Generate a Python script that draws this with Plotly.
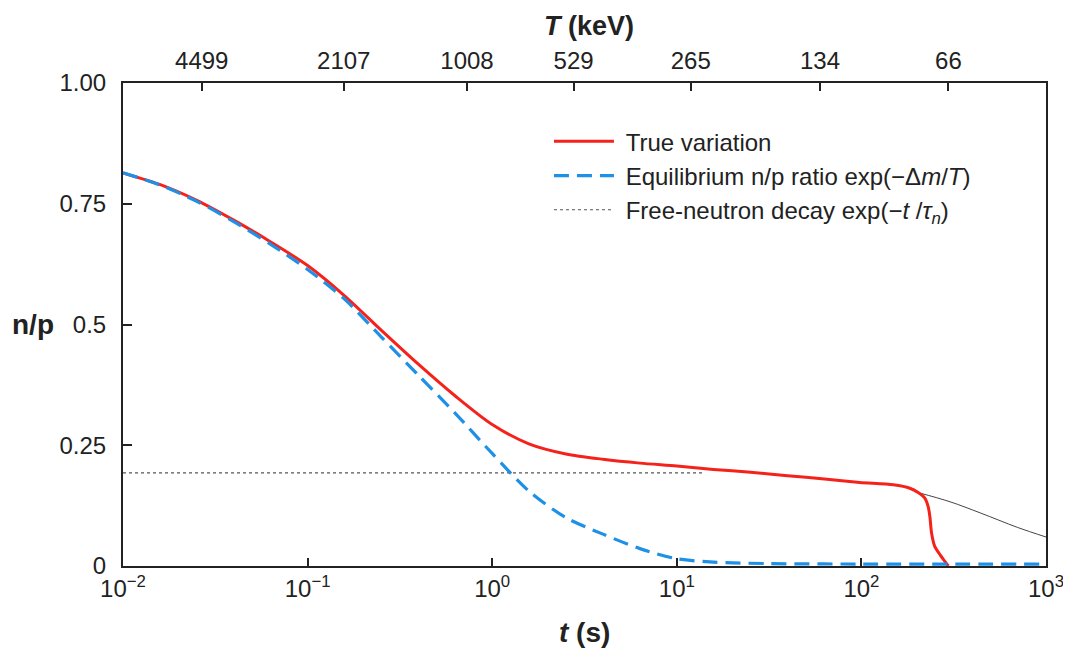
import plotly.graph_objects as go

# ---- data ----
# True variation (red)
t_true = [0.01, 0.0158, 0.0251, 0.0398, 0.0631, 0.1, 0.158, 0.251, 0.398, 0.631, 1.0,
          1.58, 2.51, 3.98, 6.31, 10, 15.8, 25.1, 39.8, 63.1, 98, 149, 183, 203, 221,
          230, 235, 240, 250, 267, 284, 296]
np_true = [0.814, 0.790, 0.757, 0.716, 0.671, 0.622, 0.560, 0.488, 0.418, 0.352, 0.293,
           0.253, 0.232, 0.221, 0.213, 0.207, 0.200, 0.194, 0.187, 0.180, 0.173, 0.168,
           0.161, 0.152, 0.140, 0.123, 0.102, 0.068, 0.040, 0.023, 0.009, 0.0]

# Equilibrium n/p ratio (blue dashed)
t_eq = [0.01, 0.0158, 0.0251, 0.0398, 0.0631, 0.1, 0.158, 0.251, 0.398, 0.631, 1.0,
        1.58, 2.51, 3.98, 6.31, 10, 15.8, 31.6, 100, 1000]
np_eq = [0.814, 0.789, 0.755, 0.713, 0.666, 0.614, 0.553, 0.474, 0.395, 0.316, 0.233,
         0.155, 0.100, 0.066, 0.036, 0.015, 0.008, 0.005, 0.004, 0.004]

# Free-neutron decay (grey): dotted plateau and thin tail after freeze-out
t_free = [0.01, 14]
np_free = [0.193, 0.193]
t_free_tail = [203, 302, 440, 700, 1000]
np_free_tail = [0.152, 0.133, 0.110, 0.080, 0.060]

# top axis: temperature labels and the times they sit at
T_labels = ["4499", "2107", "1008", "529", "265", "134", "66"]
T_tick_t = [0.0267, 0.157, 0.730, 2.76, 11.9, 59.7, 296]

x_tickvals = [1e-2, 1e-1, 1e0, 1e1, 1e2, 1e3]
x_ticktext = ["10<sup>−2</sup>", "10<sup>−1</sup>", "10<sup>0</sup>",
              "10<sup>1</sup>", "10<sup>2</sup>", "10<sup>3</sup>"]
y_tickvals = [0, 0.25, 0.5, 0.75, 1.0]
y_ticktext = ["0", "0.25", "0.5", "0.75", "1.00"]

FONT = "Arial, Liberation Sans, Helvetica, sans-serif"
INK = "#222222"
RED = "#f5221b"
BLUE = "#1e90e6"
NB = "\u00a0"

fig = go.Figure()

fig.add_trace(go.Scatter(
    x=t_free, y=np_free, mode="lines",
    line=dict(color="#555555", width=1.2, dash="3px,3px"),
    name=NB + "Free-neutron decay exp(−<i>t</i> /<i>τ</i><sub><i>n</i></sub>)",
    legendrank=3, hoverinfo="skip"))
fig.add_trace(go.Scatter(
    x=t_free_tail, y=np_free_tail, mode="lines",
    line=dict(color="#444444", width=1, shape="spline"),
    showlegend=False, hoverinfo="skip"))
fig.add_trace(go.Scatter(
    x=t_true, y=np_true, mode="lines",
    line=dict(color=RED, width=3, shape="spline", smoothing=0.8),
    name=NB + "True variation", legendrank=1))
fig.add_trace(go.Scatter(
    x=t_eq, y=np_eq, mode="lines",
    line=dict(color=BLUE, width=3.2, dash="15px,8px", shape="spline", smoothing=0.8),
    name=NB + "Equilibrium n/p ratio exp(−Δ<i>m</i>/<i>T</i>)", legendrank=2))
# carrier for the top axis
fig.add_trace(go.Scatter(x=T_tick_t, y=[None] * len(T_tick_t), xaxis="x2",
                         mode="lines", showlegend=False, hoverinfo="skip"))

axis_common = dict(showgrid=False, zeroline=False, showline=True, linecolor=INK,
                   linewidth=2, ticks="inside", tickcolor=INK, tickwidth=1.5,
                   automargin=False,
                   tickfont=dict(family=FONT, size=24, color=INK))

# the page body adds an 8px offset, so the figure is 8px smaller and margins shifted
fig.update_layout(
    width=1063, height=647,
    margin=dict(l=115, r=25, t=75, b=89),
    paper_bgcolor="white", plot_bgcolor="white",
    font=dict(family=FONT, color=INK),
    xaxis=dict(type="log", range=[-2, 3], tickvals=x_tickvals, ticktext=x_ticktext,
               ticklen=8, ticklabelstandoff=0, **axis_common),
    xaxis2=dict(type="log", range=[-2, 3], overlaying="x", side="top", anchor="y",
                tickvals=T_tick_t, ticktext=T_labels, ticklen=8, ticklabelstandoff=2,
                **axis_common),
    yaxis=dict(range=[0, 1], tickvals=y_tickvals, ticktext=y_ticktext, ticklen=9,
               mirror=True, ticklabelstandoff=10, **axis_common),
    legend=dict(x=0.4615, y=0.925, xanchor="left", yanchor="top",
                font=dict(family=FONT, size=24, color=INK),
                bgcolor="rgba(0,0,0,0)", itemwidth=60, tracegroupgap=0),
    annotations=[
        dict(text="<b>n/p</b>", xref="paper", yref="paper",
             x=-0.0975, y=0.5, xanchor="center", yanchor="middle",
             showarrow=False, font=dict(family=FONT, size=28, color=INK)),
        dict(text="<b><i>T</i> (keV)</b>", xref="paper", yref="paper",
             x=0.505, y=1.0 + 74 / 483, xanchor="center", yanchor="top",
             showarrow=False, font=dict(family=FONT, size=27, color=INK)),
        dict(text="<b><i>t</i> (s)</b>", xref="paper", yref="paper",
             x=0.5, y=-(632 - 566) / 483, xanchor="center", yanchor="middle",
             showarrow=False, font=dict(family=FONT, size=28, color=INK)),
    ],
)

fig.write_html("out.html")
